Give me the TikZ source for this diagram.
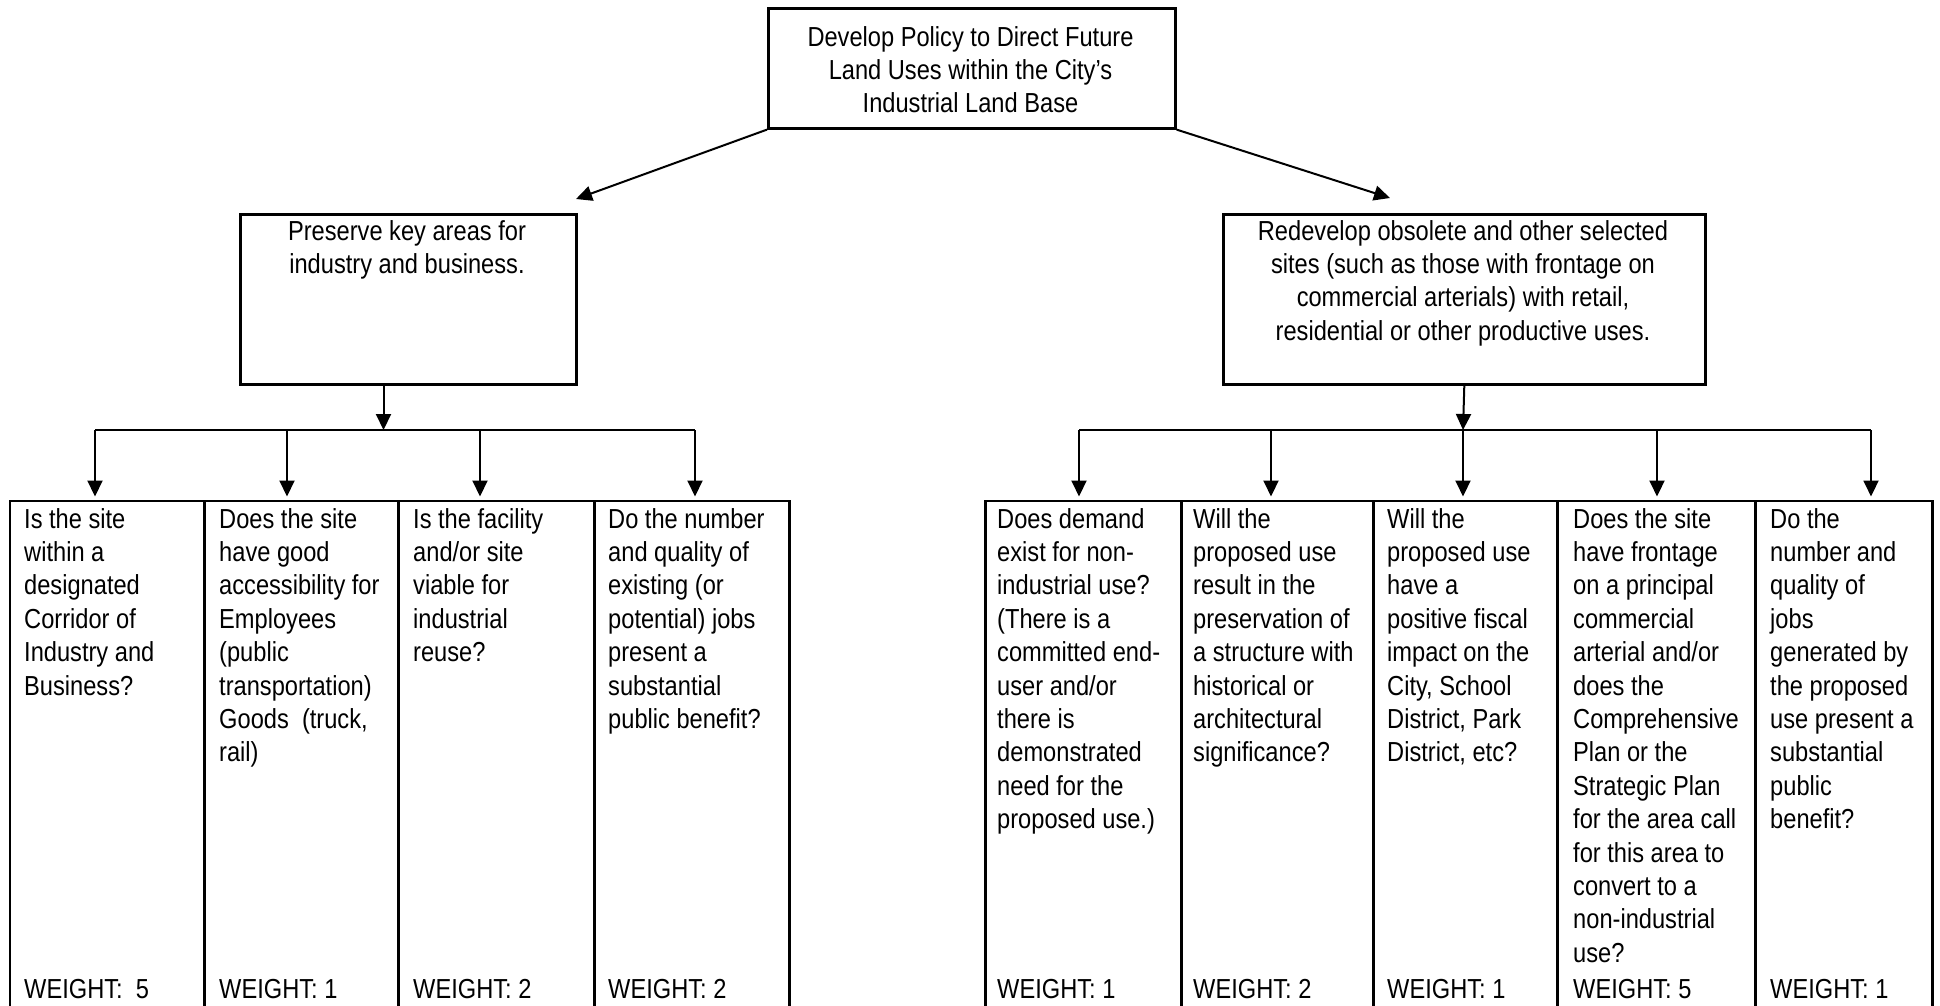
\documentclass[tikz,border=0pt]{standalone}
\usepackage{fontspec}
\setmainfont{Liberation Sans}[FakeStretch=0.86]
\usetikzlibrary{arrows.meta}
\newcommand{\cellfont}{\fontsize{27.5}{33.4}\selectfont}
\begin{document}
\begin{tikzpicture}[x=1pt,y=-1pt,
  frame/.style={draw, line width=2.6pt, inner sep=0pt, anchor=north west},
  conn/.style={line width=2pt},
  arr/.style={conn, -{Triangle[length=16pt,width=15pt]}},
  txt/.style={inner sep=0pt, font=\cellfont, align=left, anchor=north west},
  ctxt/.style={inner sep=0pt, font=\cellfont, align=center, anchor=north},
  wt/.style={inner sep=0pt, font=\cellfont, anchor=base west}]
\fill[white] (0,0) rectangle (1940,1005);
\useasboundingbox (0,0) rectangle (1940,1005);

% boxes
\node[frame, minimum width=407pt, minimum height=120pt] (top) at (767,7) {};
\node[frame, minimum width=336pt, minimum height=170pt] (lbox) at (239,213) {};
\node[frame, minimum width=482pt, minimum height=170pt] (rbox) at (1222,213) {};

\node[ctxt] (toptxt) at (970.5,22.6) {\strut Develop Policy to Direct Future\\Land Uses within the City’s\\Industrial Land Base};
\node[ctxt] (ltxt) at (407,216.6) {\strut Preserve key areas for\\industry and business.};
\node[ctxt] (rtxt) at (1463,216.6) {\strut Redevelop obsolete and other selected\\sites (such as those with frontage on\\commercial arterials) with retail,\\residential or other productive uses.};

% table cells
\node[frame, minimum width=194.5pt, minimum height=513pt] (L1) at (8.5,499.5) {};
\node[frame, minimum width=194pt, minimum height=513pt] (L2) at (203,499.5) {};
\node[frame, minimum width=196pt, minimum height=513pt] (L3) at (397,499.5) {};
\node[frame, minimum width=195pt, minimum height=513pt] (L4) at (593,499.5) {};
\node[frame, minimum width=196pt, minimum height=513pt] (R1) at (984,499.5) {};
\node[frame, minimum width=192pt, minimum height=513pt] (R2) at (1180,499.5) {};
\node[frame, minimum width=184pt, minimum height=513pt] (R3) at (1372,499.5) {};
\node[frame, minimum width=198pt, minimum height=513pt] (R4) at (1556,499.5) {};
\node[frame, minimum width=177pt, minimum height=513pt] (R5) at (1754,499.5) {};

% connectors
\coordinate (tipL) at (576,199);
\coordinate (tipR) at (1390,198);
\draw[arr] (top.south west) -- (tipL);
\draw[arr] (top.south east) -- (tipR);

\coordinate (lj) at (383.5,430);
\draw[arr] (lbox.south -| lj) -- (lj);
\coordinate (lb1) at (95,430);
\coordinate (lb2) at (287,430);
\coordinate (lb3) at (480,430);
\coordinate (lb4) at (695,430);
\draw[conn] (lb1) -- (lb4);
\foreach \i in {1,...,4} \draw[arr, shorten >=3pt] (lb\i) -- (lb\i |- L\i.north);

\coordinate (rj) at (1463,430);
\draw[arr] (rbox.south) -- (rj);
\coordinate (rb1) at (1079,430);
\coordinate (rb2) at (1271,430);
\coordinate (rb3) at (1463,430);
\coordinate (rb4) at (1657,430);
\coordinate (rb5) at (1871,430);
\draw[conn] (rb1) -- (rb5);
\foreach \i in {1,...,5} \draw[arr, shorten >=3pt] (rb\i) -- (rb\i |- R\i.north);

% cell texts
\node[txt] (l1t) at (24,504.6) {\strut Is the site\\within a\\designated\\Corridor of\\Industry and\\Business?};
\node[txt] (l2t) at (219,504.6) {\strut Does the site\\have good\\accessibility for\\Employees\\(public\\transportation)\\Goods\ \ (truck,\\rail)};
\node[txt] (l3t) at (413,504.6) {\strut Is the facility\\and/or site\\viable for\\industrial\\reuse?};
\node[txt] (l4t) at (608,504.6) {\strut Do the number\\and quality of\\existing (or\\potential) jobs\\present a\\substantial\\public benefit?};

\node[txt] (r1t) at (997,504.6) {\strut Does demand\\exist for non-\\industrial use?\\(There is a\\committed end-\\user and/or\\there is\\demonstrated\\need for the\\proposed use.)};
\node[txt] (r2t) at (1193,504.6) {\strut Will the\\proposed use\\result in the\\preservation of\\a structure with\\historical or\\architectural\\significance?};
\node[txt] (r3t) at (1387,504.6) {\strut Will the\\proposed use\\have a\\positive fiscal\\impact on the\\City, School\\District, Park\\District, etc?};
\node[txt] (r4t) at (1573,504.6) {\strut Does the site\\have frontage\\on a principal\\commercial\\arterial and/or\\does the\\Comprehensive\\Plan or the\\Strategic Plan\\for the area call\\for this area to\\convert to a\\non-industrial\\use?};
\node[txt] (r5t) at (1770,504.6) {\strut Do the\\number and\\quality of\\jobs\\generated by\\the proposed\\use present a\\substantial\\public\\benefit?};

% weights
\node[wt] (l1w) at (24,998) {WEIGHT:\ \ 5};
\node[wt] (l2w) at (219,998) {WEIGHT: 1};
\node[wt] (l3w) at (413,998) {WEIGHT: 2};
\node[wt] (l4w) at (608,998) {WEIGHT: 2};
\node[wt] (r1w) at (997,998) {WEIGHT: 1};
\node[wt] (r2w) at (1193,998) {WEIGHT: 2};
\node[wt] (r3w) at (1387,998) {WEIGHT: 1};
\node[wt] (r4w) at (1573,998) {WEIGHT: 5};
\node[wt] (r5w) at (1770,998) {WEIGHT: 1};
\end{tikzpicture}
\end{document}
